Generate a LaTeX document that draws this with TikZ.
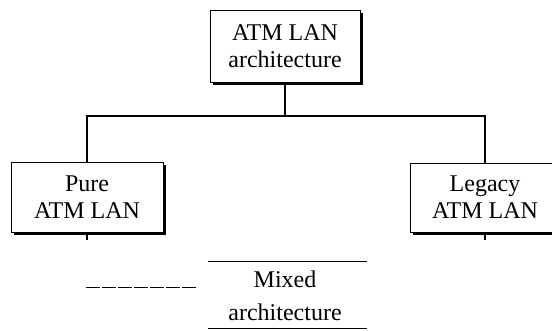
\documentclass[tikz,border=0pt]{standalone}
\usepackage{fontspec}
\setmainfont{Liberation Serif}
\usetikzlibrary{shadows}
\begin{document}
\begin{tikzpicture}[x=1pt,y=-1pt,
  archbox/.style={draw=black, line width=0.9pt, fill=white, rectangle, inner sep=0pt,
    align=center, font=\fontsize{24}{27}\selectfont,
    drop shadow={shadow xshift=2.5pt, shadow yshift=-2.5pt, opacity=1, fill=black}},
  conn/.style={draw=black, line width=1.4pt},
  lbl/.style={font=\fontsize{24}{33}\selectfont, align=center, inner sep=0pt}]
\useasboundingbox (0,0) rectangle (552,330);
\clip (0,0) rectangle (552,330);
\fill[white] (0,0) rectangle (552,330);
\node[archbox, minimum width=150pt, minimum height=72pt] (top) at (285,46) {ATM LAN\\architecture};
\node[archbox, minimum width=152pt, minimum height=70pt] (left) at (87,197) {Pure\\ATM LAN};
\node[archbox, minimum width=150pt, minimum height=69pt] (right) at (485,197.5) {Legacy\\ATM LAN};
\coordinate (j) at (285,116);
\draw[conn] (top.south) -- (j);
\draw[conn] (j) -| (left.north);
\draw[conn] (j) -| (right.north);
\coordinate (lt) at (87,240);
\coordinate (rt) at (485,240);
\draw[line width=1.2pt] (left.south) -- (lt);
\draw[line width=1.2pt] (right.south) -- (rt);
\coordinate (d1) at (86,287.5);
\coordinate (d2) at (198,287.5);
\draw[line width=1.2pt, dash pattern=on 14pt off 2pt] (d1) -- (d2);
\node[minimum width=159pt, minimum height=66pt, inner sep=0pt] (mixed) at (287.5,295) {};
\draw[line width=1.1pt] (mixed.north west) -- (mixed.north east);
\draw[line width=1.1pt] (mixed.south west) -- (mixed.south east);
\node[lbl, anchor=base] (mixtxt) at (285,320) {Mixed\\architecture};
\end{tikzpicture}
\end{document}
